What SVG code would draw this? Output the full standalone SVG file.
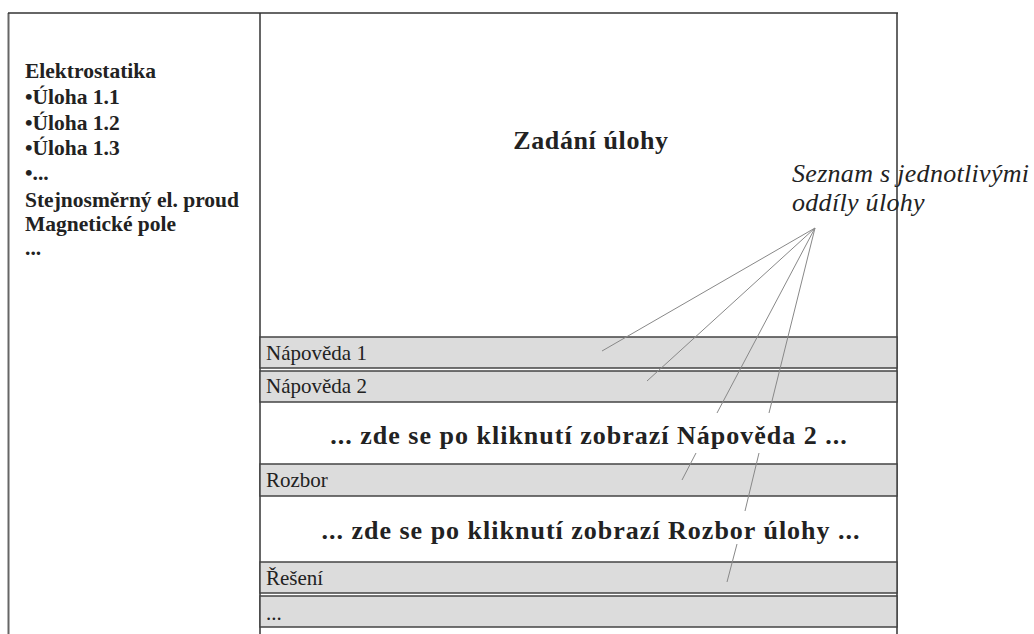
<svg xmlns="http://www.w3.org/2000/svg" width="1034" height="634" viewBox="0 0 1034 634">
<style>
.frame{stroke:#666;stroke-width:2;fill:none}
.top{stroke:#333;stroke-width:1.5;fill:none}
.bar{fill:#dcdcdc;stroke:#444;stroke-width:1.5}
.lbl{font-family:"Liberation Serif",serif;font-size:21px;fill:#222}
.nav{font-family:"Liberation Serif",serif;font-size:21.5px;font-weight:bold;fill:#222}
.big{font-family:"Liberation Serif",serif;font-size:26px;font-weight:bold;fill:#222;letter-spacing:1px;text-anchor:middle}
.note{font-family:"Liberation Serif",serif;font-size:26px;font-style:italic;fill:#222;letter-spacing:0.3px}
.con{stroke:#888;stroke-width:1;fill:none}
</style>
<rect width="1034" height="634" fill="#fff"/>
<g id="frame">
<line class="frame" x1="8.5" y1="13" x2="8.5" y2="634"/>
<line class="frame" x1="260" y1="13" x2="260" y2="634"/>
<line class="frame" x1="897" y1="13" x2="897" y2="634"/>
<line class="top" x1="8" y1="13" x2="898" y2="13"/>
</g>
<g id="menu">
<text class="nav" x="25" y="78">Elektrostatika</text>
<text class="nav" x="25" y="104">•Úloha 1.1</text>
<text class="nav" x="25" y="130">•Úloha 1.2</text>
<text class="nav" x="25" y="155">•Úloha 1.3</text>
<text class="nav" x="25" y="180">•...</text>
<text class="nav" x="25" y="207">Stejnosměrný el. proud</text>
<text class="nav" x="25" y="231">Magnetické pole</text>
<text class="nav" x="25" y="255">...</text>
</g>
<g id="zadani">
<text class="big" x="591" y="149" style="letter-spacing:0.6px">Zadání úlohy</text>
</g>
<g id="napoveda1">
<rect class="bar" x="260" y="337" width="637" height="31"/>
<text class="lbl" x="266" y="360">Nápověda 1</text>
</g>
<g id="napoveda2">
<rect class="bar" x="260" y="371" width="637" height="31"/>
<text class="lbl" x="266" y="393">Nápověda 2</text>
</g>
<g id="obsah-napoveda2">
<text class="big" x="589" y="444">... zde se po kliknutí zobrazí Nápověda 2 ...</text>
</g>
<g id="rozbor">
<rect class="bar" x="260" y="464" width="637" height="32"/>
<text class="lbl" x="266" y="487">Rozbor</text>
</g>
<g id="obsah-rozbor">
<text class="big" x="591" y="539">... zde se po kliknutí zobrazí Rozbor úlohy ...</text>
</g>
<g id="reseni">
<rect class="bar" x="260" y="562" width="637" height="31"/>
<text class="lbl" x="266" y="585">Řešení</text>
</g>
<g id="dalsi">
<rect class="bar" x="260" y="596" width="637" height="31"/>
<text class="lbl" x="266" y="620">...</text>
</g>
<g id="poznamka">
<text class="note" x="792" y="182">Seznam s jednotlivými</text>
<text class="note" x="792" y="211">oddíly úlohy</text>
</g>
<g id="connectors">
<line class="con" x1="815" y1="228" x2="602" y2="351"/>
<line class="con" x1="815" y1="228" x2="647" y2="381"/>
<line class="con" x1="815" y1="228" x2="717" y2="413"/>
<line class="con" x1="696" y1="453" x2="682" y2="480"/>
<line class="con" x1="815" y1="228" x2="769" y2="413"/>
<line class="con" x1="759" y1="453" x2="745" y2="511"/>
<line class="con" x1="737" y1="544" x2="727" y2="582"/>
</g>
</svg>
